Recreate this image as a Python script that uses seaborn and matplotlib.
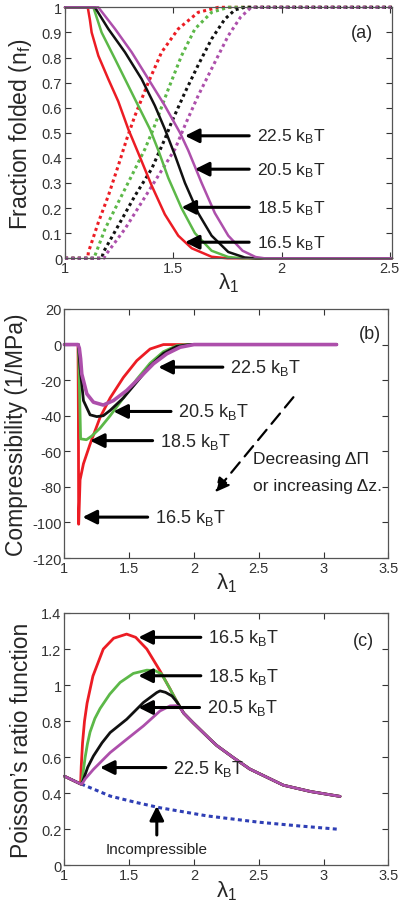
import matplotlib
matplotlib.use("Agg")
import matplotlib.pyplot as plt
from matplotlib.ticker import FuncFormatter
import seaborn as sns

# ---------------- panel (a): fraction folded ----------------
red_a_x = [1.0, 1.105, 1.111, 1.115, 1.123, 1.154, 1.2, 1.246, 1.292, 1.338, 1.4, 1.461, 1.523, 1.585, 1.677, 1.75, 2.51]
red_a_y = [1, 1, 0.97, 0.95, 0.9, 0.807, 0.714, 0.625, 0.515, 0.42, 0.29, 0.175, 0.09, 0.04, 0.006, 0, 0]
green_a_x = [1.0, 1.131, 1.169, 1.231, 1.292, 1.338, 1.392, 1.431, 1.477, 1.538, 1.6, 1.677, 1.754, 1.82, 2.51]
green_a_y = [1, 1, 0.9, 0.794, 0.688, 0.608, 0.515, 0.43, 0.32, 0.2, 0.1, 0.03, 0.005, 0, 0]
black_a_x = [1.0, 1.138, 1.2, 1.277, 1.354, 1.415, 1.461, 1.508, 1.554, 1.615, 1.677, 1.754, 1.83, 1.88, 2.51]
black_a_y = [1, 1, 0.914, 0.821, 0.714, 0.608, 0.515, 0.41, 0.3, 0.18, 0.09, 0.025, 0.003, 0, 0]
purple_a_x = [1.0, 1.154, 1.231, 1.308, 1.385, 1.461, 1.531, 1.569, 1.631, 1.692, 1.754, 1.82, 1.88, 1.92, 2.51]
purple_a_y = [1, 1, 0.914, 0.821, 0.714, 0.608, 0.5, 0.43, 0.3, 0.18, 0.09, 0.03, 0.005, 0, 0]

red_ad_x = [1.0, 1.105, 1.108, 1.154, 1.2, 1.246, 1.285, 1.323, 1.385, 1.446, 1.523, 1.615, 1.708, 2.51]
red_ad_y = [0, 0, 0.024, 0.143, 0.249, 0.369, 0.475, 0.568, 0.701, 0.821, 0.914, 0.98, 1, 1]
green_ad_x = [1.0, 1.135, 1.138, 1.185, 1.246, 1.308, 1.369, 1.408, 1.477, 1.538, 1.6, 1.677, 1.754, 2.51]
green_ad_y = [0, 0, 0.01, 0.117, 0.223, 0.329, 0.435, 0.515, 0.674, 0.807, 0.914, 0.98, 1, 1]
black_ad_x = [1.0, 1.17, 1.177, 1.246, 1.323, 1.4, 1.461, 1.492, 1.554, 1.615, 1.677, 1.738, 1.785, 1.83, 2.51]
black_ad_y = [0, 0, 0.024, 0.13, 0.249, 0.356, 0.475, 0.542, 0.661, 0.77, 0.874, 0.953, 0.99, 1, 1]
purple_ad_x = [1.0, 1.18, 1.185, 1.277, 1.354, 1.431, 1.508, 1.554, 1.615, 1.692, 1.754, 1.81, 1.86, 2.51]
purple_ad_y = [0, 0, 0.01, 0.117, 0.223, 0.329, 0.435, 0.53, 0.648, 0.781, 0.887, 0.96, 1, 1]

# ---------------- panel (b): compressibility ----------------
red_b_x = [1.0, 1.105, 1.108, 1.11, 1.115, 1.121, 1.147, 1.198, 1.275, 1.353, 1.455, 1.559, 1.661, 1.764, 3.1]
red_b_y = [0, 0, -40, -101, -90, -76, -67, -56, -41, -30, -18.5, -9, -2.5, 0, 0]
green_b_x = [1.0, 1.108, 1.118, 1.125, 1.17, 1.21, 1.275, 1.353, 1.455, 1.559, 1.661, 1.764, 1.867, 1.95, 3.1]
green_b_y = [0, 0, -30, -53, -53.5, -51.5, -47, -40, -30, -19.5, -10.5, -4, -0.6, 0, 0]
black_b_x = [1.0, 1.108, 1.121, 1.147, 1.198, 1.25, 1.3, 1.353, 1.455, 1.559, 1.661, 1.764, 1.867, 1.97, 3.1]
black_b_y = [0, 0, -13, -31.5, -39.5, -40.5, -40, -37, -30, -21, -12, -5, -1, 0, 0]
purple_b_x = [1.0, 1.105, 1.115, 1.125, 1.134, 1.173, 1.224, 1.3, 1.378, 1.481, 1.584, 1.687, 1.79, 1.893, 2.0, 3.1]
purple_b_y = [0, 0, -2, -8, -16.5, -27.7, -32.4, -34, -31.5, -25.8, -18.4, -10.8, -5.2, -1.5, 0, 0]

# ---------------- panel (c): Poisson's ratio function ----------------
envelope_x = [1.48, 1.55, 1.636, 1.738, 1.816, 1.87, 1.92, 1.995, 2.124, 2.176, 2.3, 2.43, 2.56, 2.69, 2.9, 3.127]
envelope_y = [1.283, 1.265, 1.2, 1.079, 0.978, 0.905, 0.845, 0.79, 0.70, 0.665, 0.6, 0.535, 0.49, 0.445, 0.41, 0.383]
start_x = [1.0, 1.125]
start_y = [0.495, 0.452]
red_c_x = start_x + [1.13, 1.14, 1.155, 1.175, 1.22, 1.30, 1.38] + envelope_x
red_c_y = start_y + [0.55, 0.68, 0.8, 0.9, 1.05, 1.2, 1.26] + envelope_y
green_c_x = start_x + [1.134, 1.145, 1.16, 1.178, 1.198, 1.235, 1.275, 1.35, 1.43, 1.532, 1.636, 1.7, 1.75] + envelope_x[4:]
green_c_y = start_y + [0.45, 0.52, 0.6, 0.675, 0.74, 0.815, 0.87, 0.95, 1.015, 1.065, 1.083, 1.08, 1.062] + envelope_y[4:]
black_c_x = start_x + [1.134, 1.147, 1.18, 1.224, 1.29, 1.353, 1.481, 1.61, 1.713, 1.738, 1.78, 1.83] + envelope_x[5:]
black_c_y = start_y + [0.45, 0.478, 0.545, 0.607, 0.68, 0.737, 0.811, 0.904, 0.959, 0.968, 0.96, 0.94] + envelope_y[5:]
purple_c_x = start_x + [1.134, 1.16, 1.224, 1.353, 1.481, 1.61, 1.738, 1.816, 1.86, 1.89] + envelope_x[6:]
purple_c_y = start_y + [0.45, 0.48, 0.533, 0.626, 0.7, 0.774, 0.857, 0.885, 0.886, 0.877] + envelope_y[6:]
incomp_x = [1.13, 1.353, 1.55, 1.738, 2.1, 2.5, 2.8, 3.127]
incomp_y = [0.452, 0.385, 0.35, 0.32, 0.275, 0.24, 0.22, 0.2]

labels = ["16.5", "18.5", "20.5", "22.5"]
RED, GREEN, BLACK, PURPLE, BLUE = "#ec1c24", "#5cb848", "#111111", "#ad4fab", "#2f3fb5"

sns.set_style("ticks")
plt.rcParams["font.family"] = ["Liberation Sans", "DejaVu Sans"]
plt.rcParams["mathtext.default"] = "regular"
plt.rcParams["xtick.direction"] = "in"
plt.rcParams["ytick.direction"] = "in"
plt.rcParams["xtick.top"] = True
plt.rcParams["ytick.right"] = True

fig = plt.figure(figsize=(4, 9.04), dpi=100)
axa = fig.add_axes([0.1625, 0.7132, 0.8175, 0.2776])
axb = fig.add_axes([0.161, 0.3816, 0.81, 0.2755])
axc = fig.add_axes([0.161, 0.0415, 0.81, 0.2793])

DOT = (0, (1, 1.1))


def curve(ax, x, y, color, lw=1.8, ls="-"):
    sns.lineplot(x=x, y=y, ax=ax, color=color, lw=lw, sort=False, estimator=None)
    ln = ax.lines[-1]
    ln.set_linestyle(ls)
    ln.set_clip_on(False)


def tag(ax, txt, head, textpos, fs=12.5):
    ax.annotate(txt, xy=head, xytext=textpos, fontsize=fs, ha="left", va="center",
                arrowprops=dict(arrowstyle="-|>,head_length=0.6,head_width=0.3",
                                color="k", lw=2.2, mutation_scale=14,
                                relpos=(0, 0.5), shrinkA=3, shrinkB=0))


def style(ax, xlim, ylim, xt, yt, ylabel, pad=6):
    ax.set_xlim(*xlim)
    ax.set_ylim(*ylim)
    ax.set_xticks(xt)
    ax.set_yticks(yt)
    fmt = FuncFormatter(lambda v, p: "%g" % v)
    ax.xaxis.set_major_formatter(fmt)
    ax.yaxis.set_major_formatter(fmt)
    ax.tick_params(labelsize=10.5, length=4, width=0.8, colors="#333333", pad=2)
    for s in ax.spines.values():
        s.set_linewidth(0.9)
        s.set_color("#555555")
    ax.set_xlabel("λ$_1$", fontsize=16, labelpad=-3)
    ax.set_ylabel(ylabel, fontsize=16.5, labelpad=pad)


# panel (a)
for x, y, c in [(red_ad_x, red_ad_y, RED), (green_ad_x, green_ad_y, GREEN),
                (black_ad_x, black_ad_y, BLACK), (purple_ad_x, purple_ad_y, PURPLE)]:
    curve(axa, x, y, c, lw=2.2, ls=DOT)
for x, y, c in [(red_a_x, red_a_y, RED), (green_a_x, green_a_y, GREEN),
                (black_a_x, black_a_y, BLACK), (purple_a_x, purple_a_y, PURPLE)]:
    curve(axa, x, y, c, lw=1.8)
style(axa, (1, 2.51), (0, 1), [1, 1.5, 2, 2.5], [i / 10 for i in range(11)],
      "Fraction folded (n$_f$)", pad=6)
heads_a = [(1.554, 0.064), (1.538, 0.203), (1.6, 0.355), (1.554, 0.488)]
ys_a = [0.064, 0.203, 0.355, 0.488]
for lab, h, yy in zip(labels, heads_a, ys_a):
    tag(axa, lab + " k$_B$T", h, (1.885, yy), fs=12.5)
axa.text(2.37, 0.9, "(a)", fontsize=13, ha="center", va="center")

# panel (b)
for x, y, c, w in [(red_b_x, red_b_y, RED, 2.0), (green_b_x, green_b_y, GREEN, 2.0),
                   (black_b_x, black_b_y, BLACK, 2.0), (purple_b_x, purple_b_y, PURPLE, 2.6)]:
    curve(axb, x, y, c, lw=w)
style(axb, (1, 3.5), (-120, 20), [1, 1.5, 2, 2.5, 3, 3.5], list(range(-120, 21, 20)),
      "Compressibility (1/MPa)", pad=3)
heads_b = [(1.14, -97), (1.198, -54), (1.378, -37.6), (1.725, -12.7)]
text_b = [(1.70, -97), (1.738, -54), (1.88, -37.6), (2.28, -12.7)]
for lab, h, t in zip(labels, heads_b, text_b):
    tag(axb, lab + " k$_B$T", h, t, fs=13)
axb.annotate("", xy=(2.163, -83), xytext=(2.767, -29.6),
             arrowprops=dict(arrowstyle="-|>,head_length=0.6,head_width=0.3", color="k",
                             lw=1.6, linestyle=(0, (6, 3.5)), mutation_scale=14,
                             shrinkA=0, shrinkB=0))
axb.text(2.458, -64.2, "Decreasing ΔΠ", fontsize=12.5, ha="left", va="center", color="#222222")
axb.text(2.458, -79.2, "or increasing Δz.", fontsize=12.5, ha="left", va="center", color="#222222")
axb.text(3.36, 6, "(b)", fontsize=13, ha="center", va="center")

# panel (c)
curve(axc, incomp_x, incomp_y, BLUE, lw=2.2, ls=(0, (1.3, 1.1)))
for x, y, c in [(red_c_x, red_c_y, RED), (green_c_x, green_c_y, GREEN),
                (black_c_x, black_c_y, BLACK), (purple_c_x, purple_c_y, PURPLE)]:
    curve(axc, x, y, c, lw=2.0)
style(axc, (1, 3.5), (0, 1.4), [1, 1.5, 2, 2.5, 3, 3.5], [i / 5 for i in range(8)],
      "Poisson\u2019s ratio function", pad=6)
heads_c = [(1.571, 1.265), (1.571, 1.052), (1.571, 0.876), (1.275, 0.543)]
text_c = [(2.11, 1.265), (2.11, 1.052), (2.10, 0.876), (1.84, 0.543)]
for lab, h, t in zip(labels, heads_c, text_c):
    tag(axc, lab + " k$_B$T", h, t, fs=13)
axc.annotate("Incompressible", xy=(1.713, 0.33), xytext=(1.713, 0.089), fontsize=11,
             ha="center", va="center", color="#222222",
             arrowprops=dict(arrowstyle="-|>,head_length=0.6,head_width=0.3", color="k",
                             lw=2.2, mutation_scale=14, relpos=(0.5, 1), shrinkA=3, shrinkB=0))
axc.text(3.31, 1.246, "(c)", fontsize=13, ha="center", va="center")

fig.savefig("out.png", dpi=100)
